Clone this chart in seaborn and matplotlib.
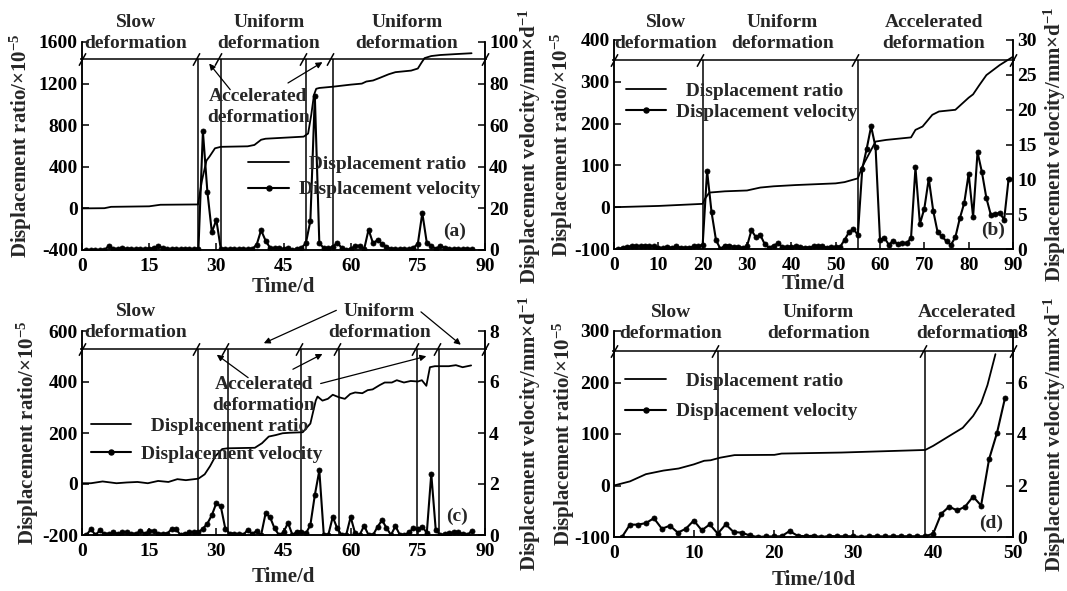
import numpy as np
import pandas as pd
import matplotlib
matplotlib.use("Agg")
import matplotlib.pyplot as plt
from matplotlib.lines import Line2D
import seaborn as sns

# ---------------- data: panel (a) ----------------
a_ratio_t = [0, 5, 6.5, 15, 17.5, 25.9, 26.8, 27.8, 28.5, 29.7, 31, 37, 38.5, 40, 41, 49.5, 50.5,
             51.2, 51.8, 52.3, 53, 56, 60, 62.5, 63.5, 65, 66.5, 68.5, 70, 73.5, 75, 75.8, 76.5,
             78, 80, 84, 87]
a_ratio = [0, 2, 15, 20, 35, 38, 270, 460, 500, 578, 592, 597, 610, 660, 670, 690, 720,
           900, 1090, 1150, 1158, 1170, 1190, 1200, 1220, 1230, 1255, 1290, 1310, 1325, 1345, 1400, 1445,
           1465, 1475, 1485, 1492]
a_vel_t = list(range(1, 88))
a_vel = [0, 0, 0, 0, 0, 2, 0.5, 0.5, 1, 0.5, 0.3, 0.3, 0.3, 0.3, 0.5, 1, 1.8, 1, 0.3, 0.3,
         0.3, 0.3, 0.5, 0.3, 0.3, 0.3, 57, 28, 8.5, 14.5, 0.5, 0.3, 0.3, 0.3, 0.3, 0.3, 0.3, 0.5, 2.5, 9.5,
         4.5, 1, 0.8, 1, 0.3, 1, 0, 0.5, 1, 3.3, 14, 74, 3.2, 1, 0.8, 1.5, 3.5, 1, 0, 0.5,
         2, 2, 0.3, 9.8, 3.2, 4.8, 3, 1.5, 0.5, 0.3, 0.3, 0.3, 0.3, 1, 3, 17.8, 3.5, 2, 0.5, 2,
         1, 0.5, 0.5, 0.5, 0.3, 0.5, 0.5]
a_bounds = [26, 31, 50, 56]

# ---------------- data: panel (b) ----------------
b_ratio_t = [0, 10, 20, 20.5, 21.5, 25, 30, 33, 36, 41, 50, 52, 55, 56, 59, 61.4, 67, 68, 69.6,
             71.8, 73.3, 77, 80, 81, 82.4, 84, 87, 90]
b_ratio = [0, 3, 8, 20, 35, 38, 40, 47, 50, 53, 57, 60, 69, 97, 157, 161, 167, 185, 193,
           221, 229, 233, 262, 270, 292, 316, 340, 360]
b_vel_t = list(range(1, 90))
b_vel = [0, 0.2, 0.3, 0.4, 0.4, 0.4, 0.5, 0.4, 0.4, 0.2, 0.1, 0.3, 0.2, 0.4, 0.2, 0.1, 0.2, 0.4, 0.4, 0.6,
         11.2, 5.3, 1.3, 0, 0.5, 0.5, 0.3, 0.3, 0.2, 0.4, 2.7, 1.7, 2.0, 0.7, 0.2, 0.5, 0.8, 0.3, 0.3, 0.3,
         0.4, 0.3, 0.2, 0.2, 0.4, 0.4, 0.4, 0.2, 0.3, 0.3, 0.3, 1.3, 2.4, 2.9, 2.0, 11.5, 14.4, 17.6, 14.6, 1.3,
         1.6, 0.6, 1.2, 0.7, 0.8, 0.8, 1.6, 11.7, 3.6, 5.8, 10.1, 5.5, 2.4, 1.8, 1.1, 0.6, 1.7, 4.4, 6.6, 10.8,
         4.6, 13.9, 11.0, 7.3, 4.9, 5.0, 5.2, 4.2, 10.0]
b_bounds = [20, 55]

# ---------------- data: panel (c) ----------------
c_ratio_t = [0, 2, 4.6, 7.7, 10, 12.4, 14.7, 17, 19.3, 21.3, 23.2, 26, 27.4, 28.6, 29.8, 31.3, 32.5,
             38.6, 40.2, 41.7, 43.3, 44.8, 46.4, 49.3, 51, 52.2, 52.6, 53.7, 54.9, 56, 57.4, 58.7, 59.9,
             61, 62.6, 63.8, 64.9, 66.5, 67.6, 69.2, 70.3, 71.9, 73.4, 75, 75.9, 76.9, 77.7, 78.8, 81.9,
             83.5, 85, 86.9]
c_ratio = [3, 3, 10, 3, 6, 8, 3, 12, 8, 19, 15, 21, 38, 70, 109, 137, 140,
           142, 160, 186, 192, 199, 201, 203, 237, 327, 343, 327, 334, 350, 340, 334, 353,
           359, 356, 368, 371, 388, 398, 398, 407, 398, 404, 402, 407, 385, 458, 462, 462,
           466, 458, 465]
c_vel_t = list(range(1, 88))
c_vel = [0, 0.23, 0, 0.18, 0.05, 0.05, 0.1, 0.05, 0.12, 0.1, 0.05, 0.05, 0.15, 0.05, 0.15, 0.17, 0.05, 0.05,
         0.05, 0.23, 0.23, 0, 0.05, 0.1, 0.12, 0.1, 0.25, 0.45, 0.78, 1.25, 1.12, 0.25, 0.05, 0.05, 0.03, 0,
         0.2, 0.05, 0.15, 0, 0.85, 0.7, 0.26, 0, 0.1, 0.48, 0, 0.13, 0.13, 0.06, 0.39, 1.57, 2.53, 0,
         0, 0.71, 0.26, 0, 0, 0.71, 0.06, 0, 0.36, 0, 0, 0.32, 0.58, 0.28, 0, 0.35, 0, 0,
         0.1, 0.26, 0.22, 0.33, 0.08, 2.4, 0.2, 0, 0.03, 0.08, 0.1, 0.1, 0.05, 0, 0.15]
c_bounds = [26, 32.5, 49, 57.5, 74.8, 79.8]

# ---------------- data: panel (d) ----------------
d_ratio_t = [0, 2, 4, 6.2, 8.1, 10, 11.3, 12.1, 13.3, 15.1, 20.1, 21, 28.5, 39, 40, 42, 43.7,
             45, 46, 46.8, 47.3, 47.8]
d_ratio = [0, 8, 22, 29, 33, 41, 48, 49, 54, 59, 59.5, 62, 64, 69, 77, 96, 112,
           135, 160, 195, 225, 255]
d_vel_t = list(range(1, 50))
d_vel = [0, 0.48, 0.48, 0.54, 0.73, 0.32, 0.44, 0.17, 0.32, 0.64, 0.26, 0.49, 0.13, 0.49, 0.19, 0.17,
         0.06, 0, 0.02, 0.02, 0.03, 0.23, 0.05, 0.03, 0.05, 0, 0.04, 0.03, 0.03, 0.03, 0, 0.03, 0.03,
         0.02, 0.03, 0.03, 0.03, 0.03, 0.03, 0.13, 0.9, 1.18, 1.03, 1.18, 1.57, 1.22, 3.02, 4.05, 5.4]
d_bounds = [13, 39]

LEG_RATIO = "  Displacement ratio"
LEG_VEL = "Displacement velocity"
YL = "Displacement ratio/×10$^{-5}$"
YR = "Displacement velocity/mm×d$^{-1}$"

# ---------------- style ----------------
sns.set_theme(style="ticks")
plt.rcParams.update({
    "font.family": ["Liberation Serif", "DejaVu Serif"],
    "font.weight": "bold",
    "axes.labelweight": "bold",
    "mathtext.fontset": "custom",
    "mathtext.rm": "Liberation Serif:bold",
    "mathtext.it": "Liberation Serif:bold:italic",
    "mathtext.bf": "Liberation Serif:bold",
    "mathtext.default": "rm",
    "axes.unicode_minus": False,
    "axes.linewidth": 1.1,
    "axes.edgecolor": "black",
})

W, H = 1067, 591
fig = plt.figure(figsize=(W / 100, H / 100), dpi=100)


def px_rect(l, r, t, b):
    return [l / W, 1 - b / H, (r - l) / W, (b - t) / H]


def panel(rect, rt, rv, vt, vv, xlim, xticks, ylim, yticks, y2lim, y2ticks, xlabel,
          bounds, yline, texts, arrows, leg_xy, leg_sp, tag_xy, tag, ylab_x, y2lab_x, xlab_y):
    ax = fig.add_axes(rect)
    ax2 = ax.twinx()
    sns.lineplot(x=rt, y=rv, ax=ax, color="black", linewidth=1.3, sort=False, errorbar=None)
    sns.lineplot(x=vt, y=vv, ax=ax2, color="black", linewidth=1.5, marker="o",
                 markersize=3.6, markeredgecolor="black", markeredgewidth=0.6,
                 errorbar=None)
    ax.set_xlim(xlim)
    ax.set_ylim(ylim)
    ax2.set_ylim(y2lim)
    ax.set_xticks(xticks)
    ax.set_yticks(yticks)
    ax2.set_yticks(y2ticks)
    for a in (ax, ax2):
        a.spines["top"].set_visible(False)
        for s in a.spines.values():
            s.set_linewidth(1.1)
    ax.tick_params(axis="both", direction="in", length=5, width=1.1, labelsize=14,
                   colors="black")
    ax.tick_params(axis="x", pad=6)
    ax.tick_params(axis="y", pad=3)
    ax2.tick_params(axis="y", direction="in", length=5, width=1.1, labelsize=14, pad=3,
                    colors="black")
    ax.set_xlabel(xlabel, fontsize=15)
    ax.set_ylabel(YL, fontsize=15)
    ax2.set_ylabel(YR, fontsize=15)
    ax.xaxis.set_label_coords(0.5, xlab_y)
    ax.xaxis.label.set_va("center")
    ax.yaxis.set_label_coords(ylab_x, 0.5)
    ax.yaxis.label.set_va("center")
    ax2.yaxis.set_label_coords(y2lab_x, 0.5)
    ax2.yaxis.label.set_va("center")
    ax2.yaxis.label.set_rotation(90)

    # phase boundaries and top bar
    ax.vlines(bounds, ylim[0], yline, color="black", linewidth=1.1)
    span = xlim[1] - xlim[0]
    ax.hlines(yline, xlim[0] - 0.006 * span, xlim[1] + 0.006 * span, color="black",
              linewidth=1.1, clip_on=False)
    marks = [xlim[0]] + [b - 0.006 * span for b in bounds] + [xlim[1]]
    ax.plot(marks, [yline] * len(marks), linestyle="none", marker=[(-0.55, -1), (0.55, 1)],
            markersize=9, markeredgewidth=1.1, color="black", clip_on=False)

    for s, x, y in texts:
        ax.text(x, y, s, ha="center", va="center", fontsize=14, linespacing=1.3,
                clip_on=False)
    for (x0, y0), (x1, y1) in arrows:
        ax.annotate("", xy=(x1, y1), xytext=(x0, y0), xycoords="data",
                    arrowprops=dict(arrowstyle="-|>", color="black", lw=0.9,
                                    mutation_scale=9, shrinkA=0, shrinkB=0),
                    annotation_clip=False)
    ax.text(tag_xy[0], tag_xy[1], tag, ha="center", va="center", fontsize=14)

    handles = [Line2D([], [], color="black", linewidth=1.3),
               Line2D([], [], color="black", linewidth=1.5, marker="o", markersize=3.6)]
    ax2.legend(handles, [LEG_RATIO, LEG_VEL], loc="center left",
               bbox_to_anchor=leg_xy, bbox_transform=ax.transData, frameon=False,
               fontsize=14, handlelength=2.1, handletextpad=0.5, labelspacing=leg_sp,
               borderpad=0, borderaxespad=0)
    return ax, ax2


# (a)
panel(px_rect(82, 485, 42, 250), a_ratio_t, a_ratio, a_vel_t, a_vel,
      (0, 90), [0, 15, 30, 45, 60, 75, 90], (-400, 1600), [-400, 0, 400, 800, 1200, 1600],
      (0, 100), [0, 20, 40, 60, 80, 100], "Time/d", a_bounds, 1432,
      [("Slow\ndeformation", 12.0, 1685), ("Uniform\ndeformation", 41.7, 1685),
       ("Uniform\ndeformation", 72.6, 1685), ("Accelerated\ndeformation", 39.4, 975)],
      [((33.1, 1142), (28.4, 1393)), ((46.0, 1206), (53.7, 1406))],
      (37.1, 303), 0.4, (83.3, -225), "(a)", -0.152, 1.112, -0.18)

# (b)
panel(px_rect(614, 1013, 40, 249), b_ratio_t, b_ratio, b_vel_t, b_vel,
      (0, 90), list(range(0, 91, 10)), (-100, 400), [-100, 0, 100, 200, 300, 400],
      (0, 30), [0, 5, 10, 15, 20, 25, 30], "Time/d", b_bounds, 352,
      [("Slow\ndeformation", 11.7, 416), ("Uniform\ndeformation", 38.0, 416),
       ("Accelerated\ndeformation", 72.2, 416)],
      [],
      (2.6, 253), 0.15, (85.5, -55), "(b)", -0.13, 1.105, -0.168)

# (c)
panel(px_rect(82, 485, 331, 535), c_ratio_t, c_ratio, c_vel_t, c_vel,
      (0, 90), [0, 15, 30, 45, 60, 75, 90], (-200, 600), [-200, 0, 200, 400, 600],
      (0, 8), [0, 2, 4, 6, 8], "Time/d", c_bounds, 530,
      [("Slow\ndeformation", 12.0, 636), ("Uniform\ndeformation", 66.4, 636),
       ("Accelerated\ndeformation", 40.6, 350)],
      [((56.8, 681), (40.6, 552)), ((75.7, 675), (84.6, 546)),
       ((37.1, 417), (30.1, 507)), ((47.1, 450), (53.7, 510)), ((53.3, 394), (76.9, 501))],
      (1.9, 172), 0.5, (83.8, -127), "(c)", -0.135, 1.112, -0.207)

# (d)
panel(px_rect(614, 1013, 331, 537), d_ratio_t, d_ratio, d_vel_t, d_vel,
      (0, 50), [0, 10, 20, 30, 40, 50], (-100, 300), [-100, 0, 100, 200, 300],
      (0, 8), [0, 2, 4, 6, 8], "Time/10d", d_bounds, 261,
      [("Slow\ndeformation", 7.1, 315), ("Uniform\ndeformation", 25.6, 315),
       ("Accelerated\ndeformation", 44.3, 315)],
      [],
      (1.4, 173), 0.65, (47.3, -74), "(d)", -0.126, 1.105, -0.209)

fig.savefig("out.png", dpi=100)
